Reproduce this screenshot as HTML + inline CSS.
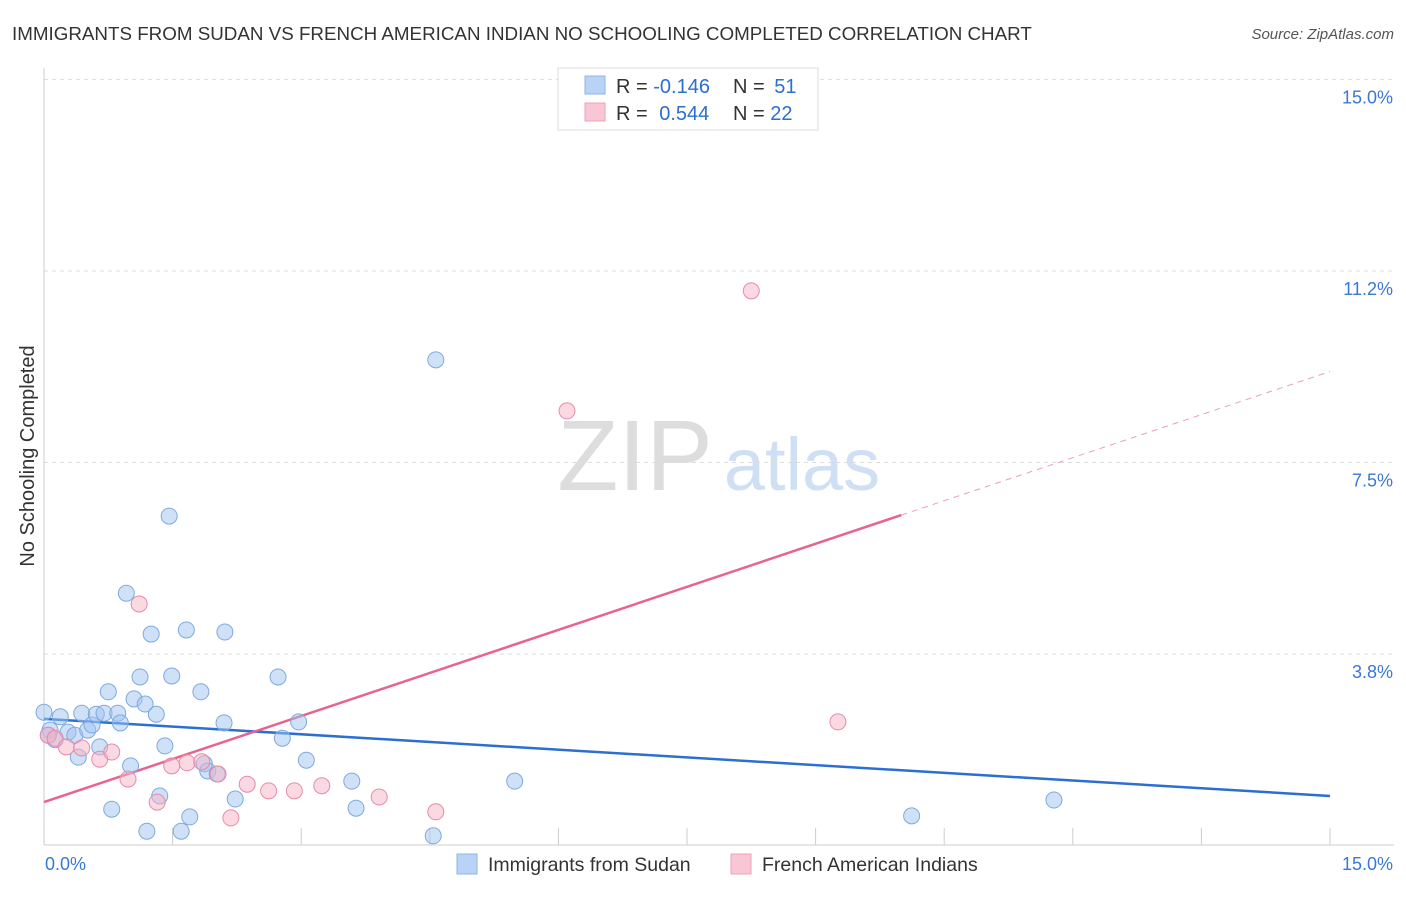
<!DOCTYPE html>
<html><head><meta charset="utf-8"><style>
body{margin:0;background:#fff;font-family:"Liberation Sans",sans-serif}
svg text{font-family:"Liberation Sans",sans-serif}
</style></head><body>
<svg id="chart" width="1406" height="892" xmlns="http://www.w3.org/2000/svg">
<text x="12" y="40" font-size="18.8" fill="#333">IMMIGRANTS FROM SUDAN VS FRENCH AMERICAN INDIAN NO SCHOOLING COMPLETED CORRELATION CHART</text>
<text x="1394" y="39" font-size="15" fill="#555" font-style="italic" text-anchor="end">Source: ZipAtlas.com</text>
<text transform="translate(34,456) rotate(-90)" font-size="20" fill="#333" text-anchor="middle">No Schooling Completed</text>
<g>
<text x="635" y="490" font-size="100" fill="#ddd" font-family="Liberation Serif,serif" text-anchor="middle">ZIP</text>
<text x="802" y="490" font-size="74" fill="#cfe0f5" text-anchor="middle">atlas</text>
</g>
<g id="grid"></g><g id="axes"></g><g id="lines"></g><g id="points"></g>
<g>
<rect x="558" y="68" width="260" height="62" fill="#fff" stroke="#ddd"/>
<rect x="585" y="76" width="20" height="18" fill="#b8d3f5" stroke="#8fb4e6"/>
<rect x="585" y="103" width="20" height="18" fill="#f9c6d5" stroke="#eea0b8"/>
<text x="616" y="93" font-size="20" fill="#333">R = <tspan fill="#2b6fd0">-0.146</tspan></text>
<text x="733" y="93" font-size="20" fill="#333">N = <tspan fill="#2b6fd0" dx="4">51</tspan></text>
<text x="616" y="120" font-size="20" fill="#333">R = <tspan fill="#2b6fd0" dx="6">0.544</tspan></text>
<text x="733" y="120" font-size="20" fill="#333">N = <tspan fill="#2b6fd0">22</tspan></text>
</g>
<g>
<rect x="457" y="854" width="20" height="20" fill="#b8d3f5" stroke="#8fb4e6"/>
<text x="488" y="871" font-size="19.5" fill="#333">Immigrants from Sudan</text>
<rect x="731" y="854" width="20" height="20" fill="#f9c6d5" stroke="#eea0b8"/>
<text x="762" y="871" font-size="19.5" fill="#333">French American Indians</text>
</g>
</svg>
<script>
const blueX=[0.00,0.19,0.07,0.13,0.28,0.36,0.44,0.51,0.56,0.61,0.65,0.40,0.70,0.75,0.86,0.89,0.79,0.96,1.05,1.12,1.18,1.01,1.25,1.31,1.20,1.35,1.41,1.46,1.49,1.60,1.66,1.70,1.83,1.87,1.91,2.02,2.10,2.11,2.23,2.73,2.78,2.97,3.06,3.59,3.64,4.54,4.57,5.49,10.12,11.78,0.05];
const blueY=[2.61,2.52,2.26,2.07,2.22,2.16,2.59,2.26,2.36,2.57,1.93,1.73,2.59,3.01,2.59,2.40,0.71,4.94,2.87,3.30,2.77,1.56,4.14,2.57,0.28,0.97,1.95,6.45,3.32,0.28,4.22,0.56,3.01,1.60,1.46,1.40,2.40,4.18,0.91,3.30,2.10,2.42,1.67,1.26,0.73,0.19,9.51,1.26,0.58,0.89,2.16];
const pinkX=[0.05,0.13,0.26,0.44,0.65,0.79,0.98,1.11,1.32,1.49,1.67,1.84,2.03,2.18,2.37,2.62,2.92,3.24,3.91,4.57,6.10,8.25,9.26];
const pinkY=[2.16,2.10,1.93,1.91,1.69,1.83,1.30,4.73,0.85,1.56,1.62,1.64,1.40,0.54,1.20,1.07,1.07,1.17,0.95,0.66,8.51,10.86,2.42];
const yTicks=[3.75,7.5,11.25,15];
const yTickLabels=["3.8%","7.5%","11.2%","15.0%"];
const blueLine=[2.48,0.97];
const pinkLine=[0.85,0.562];
const NS="http://www.w3.org/2000/svg";
const X0=44,X1=1330,Y0=845.5,PXY=51.07;
const sx=v=>X0+(X1-X0)*v/15, sy=v=>Y0-v*PXY;
function mk(tag,attrs,parent){const e=document.createElementNS(NS,tag);for(const k in attrs)e.setAttribute(k,attrs[k]);document.getElementById(parent).appendChild(e);return e;}
yTicks.forEach((t,i)=>{
 const g=mk('line',{x1:X0,x2:1394,y1:sy(t),y2:sy(t),stroke:'#ddd','stroke-dasharray':'4,4'},'grid');
 
 
 const l=mk('text',{x:1393,y:sy(t)+24,'font-size':18,fill:'#3a78d4','text-anchor':'end'},'axes');
 l.textContent=yTickLabels[i];
 
 
});
let a=mk('line',{x1:X0,x2:X0,y1:68,y2:845,stroke:'#ccc'},'axes');


a=mk('line',{x1:X0,x2:1394,y1:845,y2:845,stroke:'#ccc'},'axes');


for(let i=1;i<=10;i++){const t=mk('line',{x1:sx(i*1.5),x2:sx(i*1.5),y1:828,y2:845,stroke:'#ccc'},'axes');
 
 }
[["0.0%",45,'start'],["15.0%",1393,'end']].forEach(d=>{const t=mk('text',{x:d[1],y:870,'font-size':18,fill:'#3a78d4','text-anchor':d[2]},'axes');t.textContent=d[0];
 
 });
let ln=mk('line',{x1:sx(0),y1:sy(blueLine[0]),x2:sx(15),y2:sy(blueLine[1]),stroke:'#2b6fd0','stroke-width':2.5},'lines');


ln=mk('line',{x1:sx(0),y1:sy(pinkLine[0]),x2:sx(10),y2:sy(pinkLine[0]+pinkLine[1]*10),stroke:'#e8648f','stroke-width':2.5},'lines');


ln=mk('line',{x1:sx(10),y1:sy(pinkLine[0]+pinkLine[1]*10),x2:sx(15),y2:sy(pinkLine[0]+pinkLine[1]*15),stroke:'#e8a0b8','stroke-width':1,'stroke-dasharray':'6,5'},'lines');


blueX.forEach((x,i)=>{const c=mk('circle',{cx:sx(x),cy:sy(blueY[i]),r:8,fill:'rgba(160,196,240,0.5)',stroke:'#7fa9e0','stroke-width':1},'points');
 
 });
pinkX.forEach((x,i)=>{const c=mk('circle',{cx:sx(x),cy:sy(pinkY[i]),r:8,fill:'rgba(246,180,200,0.5)',stroke:'#e88aa8','stroke-width':1},'points');
 
 });
</script>
</body></html>
